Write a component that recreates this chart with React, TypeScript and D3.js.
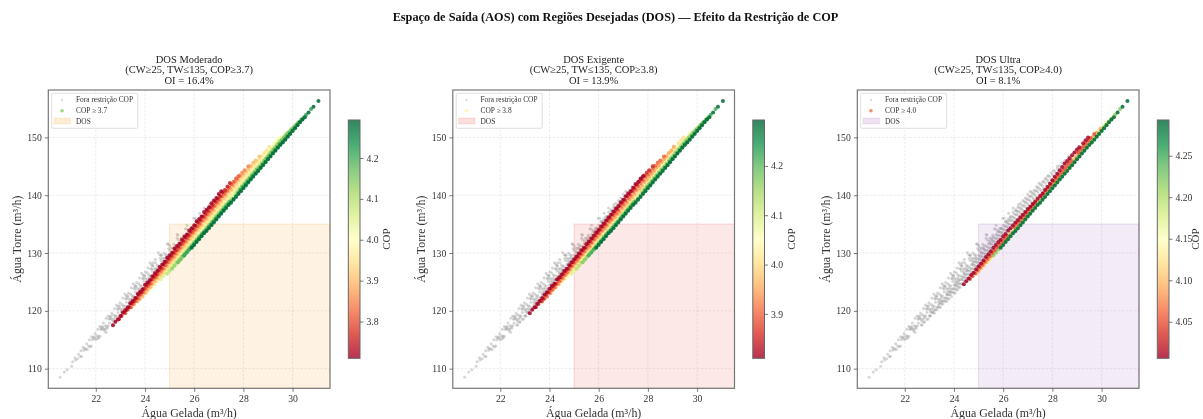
import { useEffect, useRef } from "react";
import * as d3 from "d3";

// chilled water / tower water points, one list per COP lane
const copLevels = [3.25, 3.35, 3.44, 3.52, 3.6, 3.66, 3.71, 3.75, 3.81, 3.85, 3.9, 3.95, 4.006, 4.05, 4.09, 4.13, 4.17, 4.22, 4.293];

const lane325 = [[20.55,108.5],[20.72,109.4],[20.84,109.8],[21.06,111.2],[21.18,111.5],[21.3,112.5],[21.4,113.1],[21.52,113.2],[21.63,114.3],[21.74,115.0],[21.86,115.0],[21.97,116.1],[22.08,116.8],[22.2,116.8],[22.31,117.9],[22.42,118.7],[22.53,118.6],[22.65,119.6],[22.76,120.4],[22.87,120.3],[22.98,121.4],[23.1,122.2],[23.21,122.1],[23.33,123.1],[23.44,124.0],[23.55,123.9],[23.66,124.9],[23.78,125.7],[23.9,125.6],[24.01,126.7],[24.12,127.4],[24.23,127.3],[24.33,128.3],[24.42,128.9]];
const lane335 = [[21.02,110.4],[21.15,111.9],[21.26,111.7],[21.37,112.1],[21.49,113.7],[21.6,113.4],[21.71,113.9],[21.83,115.5],[21.94,115.2],[22.05,115.7],[22.16,117.3],[22.28,117.0],[22.39,117.4],[22.5,119.1],[22.62,118.7],[22.73,119.3],[22.84,121.0],[22.96,120.5],[23.07,121.1],[23.18,122.9],[23.3,122.4],[23.41,122.9],[23.52,124.7],[23.63,124.2],[23.75,124.7],[23.86,126.5],[23.98,126.0],[24.09,126.6],[24.2,128.3],[24.31,127.8],[24.43,128.3],[24.54,130.1],[24.66,129.6],[24.77,130.0],[24.92,131.6]];
const lane344 = [[21.42,112.1],[21.55,113.5],[21.66,113.3],[21.77,113.8],[21.89,115.4],[22.0,115.0],[22.11,115.6],[22.22,117.2],[22.34,116.8],[22.45,117.3],[22.56,119.0],[22.67,118.5],[22.79,119.1],[22.9,120.8],[23.02,120.2],[23.13,120.9],[23.24,122.6],[23.36,122.0],[23.47,122.6],[23.58,124.4],[23.7,123.8],[23.81,124.4],[23.92,126.2],[24.03,125.6],[24.15,126.2],[24.26,128.0],[24.38,127.3],[24.49,127.9],[24.6,129.7],[24.72,129.1],[24.83,129.7],[24.94,131.5],[25.06,130.9],[25.17,131.5],[25.31,133.2]];
const lane352 = [[21.82,113.9],[21.95,115.5],[22.06,115.2],[22.17,115.6],[22.28,117.3],[22.4,116.9],[22.51,117.4],[22.62,119.1],[22.74,118.6],[22.85,119.1],[22.96,120.9],[23.08,120.3],[23.19,120.8],[23.3,122.6],[23.42,122.0],[23.53,122.6],[23.64,124.3],[23.76,123.8],[23.87,124.3],[23.98,126.1],[24.1,125.5],[24.21,126.1],[24.32,127.8],[24.44,127.3],[24.55,127.8],[24.66,129.6],[24.78,129.0],[24.89,129.6],[25.0,131.3],[25.12,130.8],[25.23,131.3],[25.34,133.1],[25.46,132.6],[25.57,133.1],[25.71,134.8]];
const lane360 = [[22.12,115.3],[22.25,116.8],[22.36,116.5],[22.47,117.0],[22.58,118.6],[22.7,118.2],[22.81,118.8],[22.92,120.3],[23.04,119.9],[23.15,120.4],[23.26,122.1],[23.38,121.6],[23.49,122.2],[23.6,123.8],[23.72,123.3],[23.83,123.9],[23.94,125.6],[24.06,125.1],[24.17,125.7],[24.28,127.3],[24.4,126.8],[24.51,127.4],[24.62,129.1],[24.74,128.6],[24.85,129.2],[24.96,130.8],[25.08,130.3],[25.19,130.9],[25.3,132.6],[25.42,132.1],[25.53,132.6],[25.64,134.2],[25.76,133.7],[25.87,134.3],[25.98,136.0],[26.1,135.4],[26.22,136.9]];
const lane366 = [[22.42,116.3],[22.56,117.9],[22.67,117.6],[22.78,118.0],[22.9,119.7],[23.02,119.2],[23.13,119.8],[23.25,121.5],[23.37,121.0],[23.48,121.6],[23.6,123.3],[23.72,122.8],[23.83,123.4],[23.95,125.1],[24.07,124.6],[24.18,125.2],[24.3,126.9],[24.42,126.4],[24.53,127.0],[24.65,128.7],[24.77,128.2],[24.88,128.8],[25.0,130.5],[25.12,130.0],[25.23,130.6],[25.35,132.3],[25.47,131.8],[25.58,132.4],[25.7,134.1],[25.82,133.7],[25.93,134.3],[26.05,136.0],[26.17,135.5],[26.28,136.1],[26.4,137.8],[26.52,137.3],[26.62,138.4]];
const lane371 = [[22.7,117.5],[22.8,118.1],[22.9,118.5],[23.0,119.1],[23.1,119.7],[23.2,120.1],[23.3,120.6],[23.4,121.3],[23.5,121.7],[23.6,122.2],[23.7,122.9],[23.8,123.3],[23.9,123.7],[24.0,124.5],[24.1,124.9],[24.2,125.3],[24.3,126.0],[24.4,126.5],[24.5,126.9],[24.6,127.6],[24.7,128.0],[24.8,128.5],[24.9,129.2],[25.0,129.6],[25.1,130.0],[25.2,130.8],[25.3,131.2],[25.4,131.6],[25.5,132.3],[25.6,132.8],[25.7,133.2],[25.8,133.9],[25.9,134.3],[26.0,134.8],[26.1,135.5],[26.2,135.9],[26.3,136.3],[26.4,137.1],[26.5,137.5],[26.6,137.9],[26.7,138.6],[26.8,139.1],[26.9,139.5],[27.0,140.2],[27.1,140.7]];
const lane375 = [[22.95,118.6],[23.05,119.1],[23.15,119.7],[23.25,120.2],[23.35,120.6],[23.45,121.3],[23.55,121.7],[23.65,122.2],[23.75,122.8],[23.85,123.2],[23.95,123.8],[24.05,124.4],[24.15,124.8],[24.25,125.4],[24.35,125.9],[24.45,126.3],[24.55,127.0],[24.65,127.4],[24.75,128.0],[24.85,128.5],[24.95,129.0],[25.05,129.5],[25.15,130.1],[25.25,130.5],[25.35,131.1],[25.45,131.6],[25.55,132.1],[25.65,132.7],[25.75,133.1],[25.85,133.7],[25.95,134.2],[26.05,134.7],[26.15,135.3],[26.25,135.7],[26.35,136.3],[26.45,136.8],[26.55,137.3],[26.65,137.9],[26.75,138.3],[26.85,138.9],[26.95,139.4],[27.05,139.8],[27.15,140.5],[27.25,140.9],[27.35,141.5],[27.45,142.1]];
const lane381 = [[23.2,119.6],[23.3,120.2],[23.4,120.6],[23.5,121.2],[23.6,121.7],[23.7,122.2],[23.8,122.8],[23.9,123.2],[24.0,123.8],[24.1,124.3],[24.2,124.7],[24.3,125.4],[24.4,125.8],[24.5,126.3],[24.6,126.9],[24.7,127.3],[24.8,127.9],[24.9,128.4],[25.0,128.9],[25.1,129.4],[25.2,129.9],[25.3,130.5],[25.4,130.9],[25.5,131.5],[25.6,132.0],[25.7,132.5],[25.8,133.0],[25.9,133.6],[26.0,134.0],[26.1,134.6],[26.2,135.1],[26.3,135.6],[26.4,136.2],[26.5,136.6],[26.6,137.2],[26.7,137.7],[26.8,138.1],[26.9,138.8],[27.0,139.2],[27.1,139.8],[27.2,140.3],[27.3,140.7],[27.4,141.3],[27.5,141.9],[27.6,142.3],[27.7,142.9],[27.8,143.3]];
const lane385 = [[23.45,120.6],[23.55,121.2],[23.65,121.7],[23.75,122.1],[23.85,122.8],[23.95,123.2],[24.05,123.8],[24.15,124.3],[24.25,124.7],[24.35,125.4],[24.45,125.8],[24.55,126.4],[24.65,126.9],[24.75,127.3],[24.85,127.9],[24.95,128.4],[25.05,129.0],[25.15,129.4],[25.25,129.9],[25.35,130.5],[25.45,130.9],[25.55,131.6],[25.65,132.0],[25.75,132.5],[25.85,133.1],[25.95,133.5],[26.05,134.1],[26.15,134.6],[26.25,135.0],[26.35,135.7],[26.45,136.1],[26.55,136.7],[26.65,137.2],[26.75,137.6],[26.85,138.3],[26.95,138.7],[27.05,139.2],[27.15,139.8],[27.25,140.2],[27.35,140.8],[27.45,141.3],[27.55,141.8],[27.65,142.4],[27.75,142.8],[27.85,143.4],[27.95,143.9],[28.05,144.3],[28.2,145.0]];
const lane390 = [[23.7,121.6],[23.8,122.1],[23.9,122.5],[24.0,123.1],[24.1,123.6],[24.2,124.1],[24.3,124.7],[24.4,125.1],[24.5,125.7],[24.6,126.2],[24.7,126.6],[24.8,127.3],[24.9,127.7],[25.0,128.3],[25.1,128.8],[25.2,129.2],[25.3,129.8],[25.4,130.3],[25.5,130.9],[25.6,131.3],[25.7,131.8],[25.8,132.4],[25.9,132.9],[26.0,133.4],[26.1,133.9],[26.2,134.4],[26.3,134.9],[26.4,135.5],[26.5,135.9],[26.6,136.5],[26.7,136.9],[26.8,137.4],[26.9,138.0],[27.0,138.5],[27.1,139.0],[27.2,139.5],[27.3,140.0],[27.4,140.6],[27.5,141.0],[27.6,141.6],[27.7,142.1],[27.8,142.6],[27.9,143.2],[28.0,143.6],[28.1,144.1],[28.2,144.6],[28.3,145.1],[28.4,145.6],[28.5,146.0],[28.65,146.7]];
const lane395 = [[24.05,123.1],[24.15,123.7],[24.25,124.1],[24.35,124.6],[24.45,125.2],[24.55,125.6],[24.65,126.2],[24.75,126.7],[24.85,127.1],[24.95,127.7],[25.05,128.2],[25.15,128.6],[25.25,129.3],[25.35,129.7],[25.45,130.2],[25.55,130.7],[25.65,131.1],[25.75,131.7],[25.85,132.3],[25.95,132.7],[26.05,133.2],[26.15,133.8],[26.25,134.2],[26.35,134.7],[26.45,135.3],[26.55,135.7],[26.65,136.2],[26.75,136.7],[26.85,137.1],[26.95,137.7],[27.05,138.2],[27.15,138.7],[27.25,139.3],[27.35,139.7],[27.45,140.2],[27.55,140.8],[27.65,141.2],[27.75,141.7],[27.85,142.3],[27.95,142.7],[28.05,143.2],[28.15,143.7],[28.25,144.2],[28.35,144.8],[28.45,145.2],[28.55,145.7],[28.65,146.2],[28.75,146.7],[28.85,147.3],[28.95,147.7],[29.05,148.4]];
const lane400 = [[24.4,124.6],[24.5,125.1],[24.6,125.6],[24.7,126.2],[24.8,126.6],[24.9,127.2],[25.0,127.7],[25.1,128.2],[25.2,128.7],[25.3,129.3],[25.4,129.8],[25.5,130.3],[25.6,130.9],[25.7,131.4],[25.8,131.9],[25.9,132.3],[26.0,132.9],[26.1,133.3],[26.2,133.9],[26.3,134.3],[26.4,134.8],[26.5,135.3],[26.6,135.7],[26.7,136.2],[26.8,136.6],[26.9,137.1],[27.0,137.6],[27.1,138.0],[27.2,138.5],[27.3,138.9],[27.4,139.4],[27.5,139.8],[27.6,140.3],[27.7,140.9],[27.8,141.4],[27.9,142.0],[28.0,142.6],[28.1,143.2],[28.2,143.7],[28.3,144.3],[28.4,144.9],[28.5,145.5],[28.6,145.9],[28.7,146.4],[28.8,146.9],[28.9,147.4],[29.0,147.9],[29.1,148.3],[29.25,149.0],[29.35,149.5],[29.45,150.0]];
const lane405 = [[24.65,125.5],[24.75,126.0],[24.85,126.5],[24.95,127.0],[25.05,127.5],[25.15,128.0],[25.25,128.5],[25.35,129.0],[25.45,129.5],[25.55,130.0],[25.65,130.5],[25.75,131.0],[25.85,131.5],[25.95,132.0],[26.05,132.5],[26.15,133.0],[26.45,134.5],[26.55,135.0],[26.65,135.5],[26.75,136.0],[26.85,136.5],[26.95,137.0],[27.05,137.5],[27.15,138.0],[27.25,138.5],[27.55,139.9],[27.65,140.4],[27.75,140.9],[27.85,141.4],[27.95,141.9],[28.05,142.4],[28.15,142.9],[28.25,143.4],[28.35,143.9],[28.45,144.4],[28.55,144.9],[28.65,145.4],[28.75,145.9],[29.05,147.4],[29.15,147.9],[29.25,148.4],[29.35,148.9],[29.45,149.4],[29.55,149.9],[29.7,150.6]];
const lane410 = [[24.9,126.4],[25.0,126.9],[25.1,127.4],[25.2,127.9],[25.3,128.4],[25.4,128.9],[25.5,129.4],[25.6,129.9],[25.7,130.4],[25.8,130.9],[25.9,131.4],[26.0,131.9],[26.1,132.4],[26.2,132.9],[26.3,133.4],[26.7,135.4],[26.8,135.9],[26.9,136.4],[27.0,136.9],[27.1,137.4],[27.2,137.9],[27.3,138.4],[27.4,138.9],[27.5,139.4],[27.85,141.1],[27.95,141.6],[28.05,142.1],[28.15,142.6],[28.25,143.1],[28.35,143.6],[28.45,144.1],[28.55,144.6],[28.65,145.1],[28.75,145.6],[28.85,146.1],[28.95,146.6],[29.05,147.1],[29.15,147.6],[29.25,148.1],[29.35,148.6],[29.45,149.1],[29.55,149.6],[29.65,150.1],[29.8,150.8],[29.95,151.5]];
const lane415 = [[25.1,127.3],[25.2,127.8],[25.3,128.3],[25.4,128.8],[25.5,129.3],[25.6,129.8],[25.7,130.3],[25.8,130.8],[25.9,131.3],[26.0,131.8],[26.1,132.3],[26.2,132.8],[26.3,133.3],[26.4,133.8],[26.5,134.3],[26.6,134.8],[26.9,136.3],[27.0,136.8],[27.1,137.3],[27.2,137.8],[27.3,138.3],[27.4,138.8],[27.75,140.5],[27.85,141.0],[27.95,141.5],[28.05,142.0],[28.15,142.5],[28.25,143.0],[28.35,143.5],[28.45,144.0],[28.55,144.5],[28.9,146.3],[29.0,146.8],[29.1,147.3],[29.2,147.8],[29.3,148.3],[29.4,148.8],[29.5,149.3],[29.6,149.7],[29.7,150.2],[29.8,150.6],[29.9,151.1],[30.0,151.5],[30.1,152.0],[30.2,152.5]];
const lane420 = [[25.35,128.4],[25.45,128.9],[25.55,129.4],[25.65,129.9],[25.75,130.4],[25.85,130.9],[25.95,131.4],[26.05,131.9],[26.15,132.4],[26.25,132.9],[26.35,133.4],[26.45,133.9],[26.55,134.4],[26.65,134.9],[26.75,135.4],[26.85,135.9],[26.95,136.4],[27.05,136.9],[27.15,137.4],[27.25,137.9],[27.35,138.4],[27.45,138.9],[27.85,140.9],[27.95,141.4],[28.05,141.9],[28.15,142.4],[28.25,142.9],[28.35,143.4],[28.45,143.9],[28.55,144.4],[28.65,144.9],[28.75,145.4],[28.85,145.9],[28.95,146.4],[29.05,146.9],[29.15,147.4],[29.25,147.9],[29.35,148.4],[29.45,148.9],[29.55,149.4],[29.65,149.9],[29.75,150.4],[29.85,150.9],[29.95,151.3],[30.05,151.7],[30.15,152.2],[30.25,152.6],[30.35,153.1],[30.45,153.5]];
const lane425 = [[25.6,129.6],[25.7,130.1],[25.8,130.6],[25.9,131.1],[26.0,131.6],[26.1,132.1],[26.2,132.6],[26.3,133.1],[26.4,133.6],[26.5,134.0],[26.6,134.5],[26.7,135.0],[26.8,135.5],[26.9,136.0],[27.0,136.5],[27.1,137.0],[27.2,137.5],[27.3,138.0],[27.4,138.5],[27.5,138.9],[27.6,139.4],[27.7,139.9],[27.8,140.4],[27.9,140.9],[28.0,141.4],[28.1,141.9],[28.2,142.4],[28.3,142.9],[28.4,143.4],[28.5,143.8],[28.6,144.3],[28.7,144.8],[28.8,145.3],[28.9,145.8],[29.0,146.3],[29.1,146.8],[29.2,147.3],[29.3,147.8],[29.4,148.3],[29.5,148.8],[29.6,149.2],[29.7,149.7],[29.8,150.2],[29.9,150.7],[30.0,151.2],[30.1,151.7],[30.2,152.2],[30.3,152.7],[30.4,153.1],[30.55,153.9],[30.75,154.9]];
const lane429 = [[25.9,130.9],[26.0,131.4],[26.1,131.9],[26.2,132.4],[26.3,132.9],[26.4,133.4],[26.5,133.8],[26.6,134.3],[26.7,134.8],[26.8,135.3],[26.9,135.8],[27.0,136.3],[27.1,136.8],[27.2,137.3],[27.3,137.8],[27.4,138.3],[27.5,138.7],[27.6,139.2],[27.7,139.7],[27.8,140.2],[27.9,140.7],[28.0,141.2],[28.1,141.7],[28.2,142.2],[28.3,142.7],[28.4,143.2],[28.5,143.7],[28.6,144.2],[28.7,144.7],[28.8,145.2],[28.9,145.7],[29.0,146.2],[29.1,146.7],[29.2,147.2],[29.3,147.7],[29.4,148.2],[29.5,148.7],[29.6,149.1],[29.7,149.6],[29.8,150.1],[29.9,150.6],[30.0,151.1],[30.1,151.6],[30.2,152.1],[30.3,152.6],[30.4,153.1],[30.5,153.5],[30.65,154.3],[30.85,155.3],[31.05,156.3]];

const lanes = [lane325, lane335, lane344, lane352, lane360, lane366, lane371, lane375, lane381, lane385, lane390, lane395, lane400, lane405, lane410, lane415, lane420, lane425, lane429];

const panelNames = ["DOS Moderado", "DOS Exigente", "DOS Ultra"];
const copLimits = [3.7, 3.8, 4.0];
const oiValues = ["16.4", "13.9", "8.1"];
const dosColors = ["#f39c12", "#e74c3c", "#9b59b6"];
const legendCops = [4.14, 4.03, 4.07]; // value that gives the legend marker its colour
const copTicks = [
  [3.8, 3.9, 4.0, 4.1, 4.2],
  [3.9, 4.0, 4.1, 4.2],
  [4.05, 4.1, 4.15, 4.2, 4.25],
];
const copFormats = [".1f", ".1f", ".2f"];
const cwTicks = [22, 24, 26, 28, 30];
const twTicks = [110, 120, 130, 140, 150];
const cwMin = 25;
const twMax = 135;

const width = 1203;
const height = 419;
const serif = "'Liberation Serif', 'Times New Roman', serif";
const panelStep = 404.5;
const plot = { left: 48.3, right: 330, top: 90, bottom: 388.3 };
const bar = { left: 348.3, right: 360, top: 120, bottom: 358.3 };

const rdYlGn = d3.piecewise(d3.interpolateRgb, d3.schemeRdYlGn[11]);

export default function App() {
  const chart = useRef<SVGSVGElement | null>(null);

  useEffect(() => {
    const svg = d3.select(chart.current);
    svg.selectAll("*").remove();
    svg.style("font-family", serif);

    const defs = svg.append("defs");

    svg.append("text")
      .attr("x", 615.5).attr("y", 21)
      .attr("text-anchor", "middle")
      .attr("font-size", 12.3)
      .attr("font-weight", "bold")
      .attr("fill", "#111")
      .text("Espaço de Saída (AOS) com Regiões Desejadas (DOS) — Efeito da Restrição de COP");

    const x = d3.scaleLinear([20.07, 31.52], [plot.left, plot.right]);
    const y = d3.scaleLinear([106.6, 158.2], [plot.bottom, plot.top]);

    const points = lanes.flatMap((lane, i) =>
      lane.map(([cw, tw]) => ({ cw, tw, cop: copLevels[i] }))
    );

    panelNames.forEach((name, p) => {
      const limit = copLimits[p];
      const g = svg.append("g").attr("transform", `translate(${p * panelStep},0)`);
      const outside = points.filter(d => d.cop < limit);
      const copExtent = d3.extent(points.filter(d => d.cop >= limit), d => d.cop) as [number, number];
      const cop = d3.scaleSequential(rdYlGn).domain(copExtent);
      // middle colours go down first so the red and green edges both stay visible
      const inside = points.filter(d => d.cop >= limit).sort((a, b) =>
        d3.ascending(Math.abs(a.cop - d3.mean(copExtent)!), Math.abs(b.cop - d3.mean(copExtent)!))
      );

      // titles
      const titleLines = [name, `(CW≥${cwMin}, TW≤${twMax}, COP≥${limit.toFixed(1)})`, `OI = ${oiValues[p]}%`];
      g.selectAll("text.title").data(titleLines).join("text")
        .attr("class", "title")
        .attr("x", (plot.left + plot.right) / 2)
        .attr("y", (d, i) => 62.5 + i * 10.8)
        .attr("text-anchor", "middle")
        .attr("font-size", 10.5)
        .attr("fill", "#222")
        .text(d => d);

      // grid
      g.append("g").selectAll("line").data(cwTicks).join("line")
        .attr("x1", d => x(d)).attr("x2", d => x(d))
        .attr("y1", plot.top).attr("y2", plot.bottom)
        .attr("stroke", "#b0b0b0").attr("stroke-opacity", 0.35)
        .attr("stroke-width", 0.7).attr("stroke-dasharray", "2.5,1.5");
      g.append("g").selectAll("line").data(twTicks).join("line")
        .attr("x1", plot.left).attr("x2", plot.right)
        .attr("y1", d => y(d)).attr("y2", d => y(d))
        .attr("stroke", "#b0b0b0").attr("stroke-opacity", 0.35)
        .attr("stroke-width", 0.7).attr("stroke-dasharray", "2.5,1.5");

      // points out of the COP limit
      g.append("g").selectAll("circle").data(outside).join("circle")
        .attr("cx", d => x(d.cw)).attr("cy", d => y(d.tw))
        .attr("r", 1.5)
        .attr("fill", "#9a9a9a").attr("fill-opacity", 0.4);

      // DOS region
      g.append("rect")
        .attr("x", x(cwMin)).attr("width", plot.right - x(cwMin))
        .attr("y", y(twMax)).attr("height", plot.bottom - y(twMax))
        .attr("fill", dosColors[p]).attr("fill-opacity", 0.12)
        .attr("stroke", dosColors[p]).attr("stroke-opacity", 0.2).attr("stroke-width", 1);

      // points inside the COP limit
      g.append("g").selectAll("circle").data(inside).join("circle")
        .attr("cx", d => x(d.cw)).attr("cy", d => y(d.tw))
        .attr("r", 2)
        .attr("fill", d => cop(d.cop)).attr("fill-opacity", 0.85);

      // frame
      g.append("rect")
        .attr("x", plot.left).attr("y", plot.top)
        .attr("width", plot.right - plot.left).attr("height", plot.bottom - plot.top)
        .attr("fill", "none").attr("stroke", "#777").attr("stroke-width", 1.2);

      // axes
      const xAxis = g.append("g")
        .attr("transform", `translate(0,${plot.bottom})`)
        .call(d3.axisBottom(x).tickValues(cwTicks).tickSize(3.5).tickPadding(3));
      const yAxis = g.append("g")
        .attr("transform", `translate(${plot.left},0)`)
        .call(d3.axisLeft(y).tickValues(twTicks).tickSize(3.5).tickPadding(3));
      [xAxis, yAxis].forEach(a => {
        a.select(".domain").remove();
        a.selectAll("line").attr("stroke", "#444").attr("stroke-width", 0.7);
        a.selectAll("text").attr("fill", "#333").attr("font-size", 9.7).attr("font-family", serif);
      });

      g.append("text")
        .attr("x", (plot.left + plot.right) / 2).attr("y", 417)
        .attr("text-anchor", "middle")
        .attr("font-size", 11.9).attr("fill", "#333")
        .text("Água Gelada (m³/h)");
      g.append("text")
        .attr("transform", `translate(20.5,${(plot.top + plot.bottom) / 2}) rotate(-90)`)
        .attr("text-anchor", "middle")
        .attr("font-size", 11.9).attr("fill", "#333")
        .text("Água Torre (m³/h)");

      // legend
      const legend = g.append("g");
      legend.append("rect")
        .attr("x", 51.7).attr("y", 93.3).attr("width", 86).attr("height", 35)
        .attr("rx", 1.5)
        .attr("fill", "#fff").attr("fill-opacity", 0.8)
        .attr("stroke", "#d5d5d5").attr("stroke-width", 0.8);
      legend.append("circle")
        .attr("cx", 62).attr("cy", 100).attr("r", 1.2)
        .attr("fill", "#9a9a9a").attr("fill-opacity", 0.35);
      legend.append("circle")
        .attr("cx", 62).attr("cy", 110.7).attr("r", 1.8)
        .attr("fill", cop(legendCops[p])).attr("fill-opacity", 0.85);
      legend.append("rect")
        .attr("x", 54).attr("y", 118).attr("width", 16.5).attr("height", 6)
        .attr("fill", dosColors[p]).attr("fill-opacity", 0.18)
        .attr("stroke", dosColors[p]).attr("stroke-opacity", 0.2).attr("stroke-width", 0.6);
      const legendLabels = ["Fora restrição COP", `COP ≥ ${limit.toFixed(1)}`, "DOS"];
      legend.selectAll("text").data(legendLabels).join("text")
        .attr("x", 76)
        .attr("y", (d, i) => 102.3 + i * 10.7)
        .attr("font-size", 7.4).attr("fill", "#333")
        .text(d => d);

      // colour bar
      const gradientId = `cop-gradient-${p}`;
      defs.append("linearGradient")
        .attr("id", gradientId)
        .attr("x1", 0).attr("x2", 0).attr("y1", 1).attr("y2", 0)
        .selectAll("stop").data(d3.range(0, 1.01, 0.05)).join("stop")
        .attr("offset", d => d)
        .attr("stop-color", d => rdYlGn(d));
      g.append("rect")
        .attr("x", bar.left).attr("y", bar.top)
        .attr("width", bar.right - bar.left).attr("height", bar.bottom - bar.top)
        .attr("fill", `url(#${gradientId})`).attr("fill-opacity", 0.8)
        .attr("stroke", "#666").attr("stroke-width", 1);
      const barScale = d3.scaleLinear(copExtent, [bar.bottom, bar.top]);
      const barAxis = g.append("g")
        .attr("transform", `translate(${bar.right},0)`)
        .call(d3.axisRight(barScale).tickValues(copTicks[p]).tickFormat(d3.format(copFormats[p]) as any).tickSize(3.5).tickPadding(3));
      barAxis.select(".domain").remove();
      barAxis.selectAll("line").attr("stroke", "#444").attr("stroke-width", 0.7);
      barAxis.selectAll("text").attr("fill", "#333").attr("font-size", 9.7).attr("font-family", serif);
      g.append("text")
        .attr("transform", `translate(390,${(bar.top + bar.bottom) / 2}) rotate(-90)`)
        .attr("text-anchor", "middle")
        .attr("font-size", 11).attr("fill", "#333")
        .text("COP");
    });
  }, []);

  return (
    <svg
      ref={chart}
      width={width}
      height={height}
      style={{ position: "absolute", left: 0, top: 0, background: "#fff", filter: "blur(0.45px)" }}
    />
  );
}
